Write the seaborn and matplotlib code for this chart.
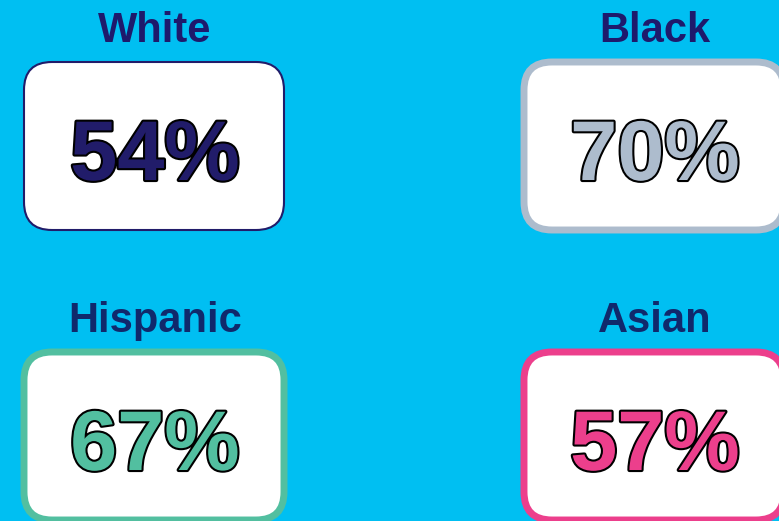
import matplotlib.pyplot as plt
import matplotlib.patheffects as pe
from matplotlib.patches import FancyBboxPatch
import seaborn as sns

# Datos
groups = ["White", "Black", "Hispanic", "Asian"]
rates = [54, 70, 67, 57]

# Estilo
value_colors = ["#211C6A", "#ADBCCD", "#52BFA0", "#EC3F8C"]
border_colors = ["#211C6A", "#ADBCCD", "#52BFA0", "#EC3F8C"]
border_widths = [1.5, 5, 5, 5]
title_colors = ["#1E1A6C", "#1E1A6C", "#10296C", "#10296C"]
bg = "#00BFF2"

sns.set_theme(style="white")
plt.rcParams["font.family"] = ["Liberation Sans", "DejaVu Sans"]

fig = plt.figure(figsize=(7.79, 5.21), dpi=100, facecolor=bg)
ax = fig.add_axes([0, 0, 1, 1])
ax.set_facecolor(bg)
ax.set_xlim(0, 779)
ax.set_ylim(521, 0)
ax.axis("off")

# posiciones de las tarjetas (pixeles)
col_x = [24, 524]
row_y = [62, 352]
box_w, box_h = 260, 168

for i, (g, r) in enumerate(zip(groups, rates)):
    x0 = col_x[i % 2]
    y0 = row_y[i // 2]
    cx = x0 + box_w / 2
    box = FancyBboxPatch((x0, y0), box_w, box_h,
                         boxstyle="round,pad=0,rounding_size=28",
                         facecolor="white", edgecolor=border_colors[i],
                         linewidth=border_widths[i])
    ax.add_patch(box)
    ax.text(cx + 1, y0 - 20, g, ha="center", va="baseline",
            fontsize=30, fontweight="bold", color=title_colors[i])
    t = ax.text(cx + 1, y0 + 118, f"{r}%", ha="center", va="baseline",
                fontsize=61, fontweight="bold", color=value_colors[i])
    t.set_path_effects([pe.withStroke(linewidth=3, foreground="black")])

plt.savefig("out.png", dpi=100, facecolor=bg)
plt.close()
